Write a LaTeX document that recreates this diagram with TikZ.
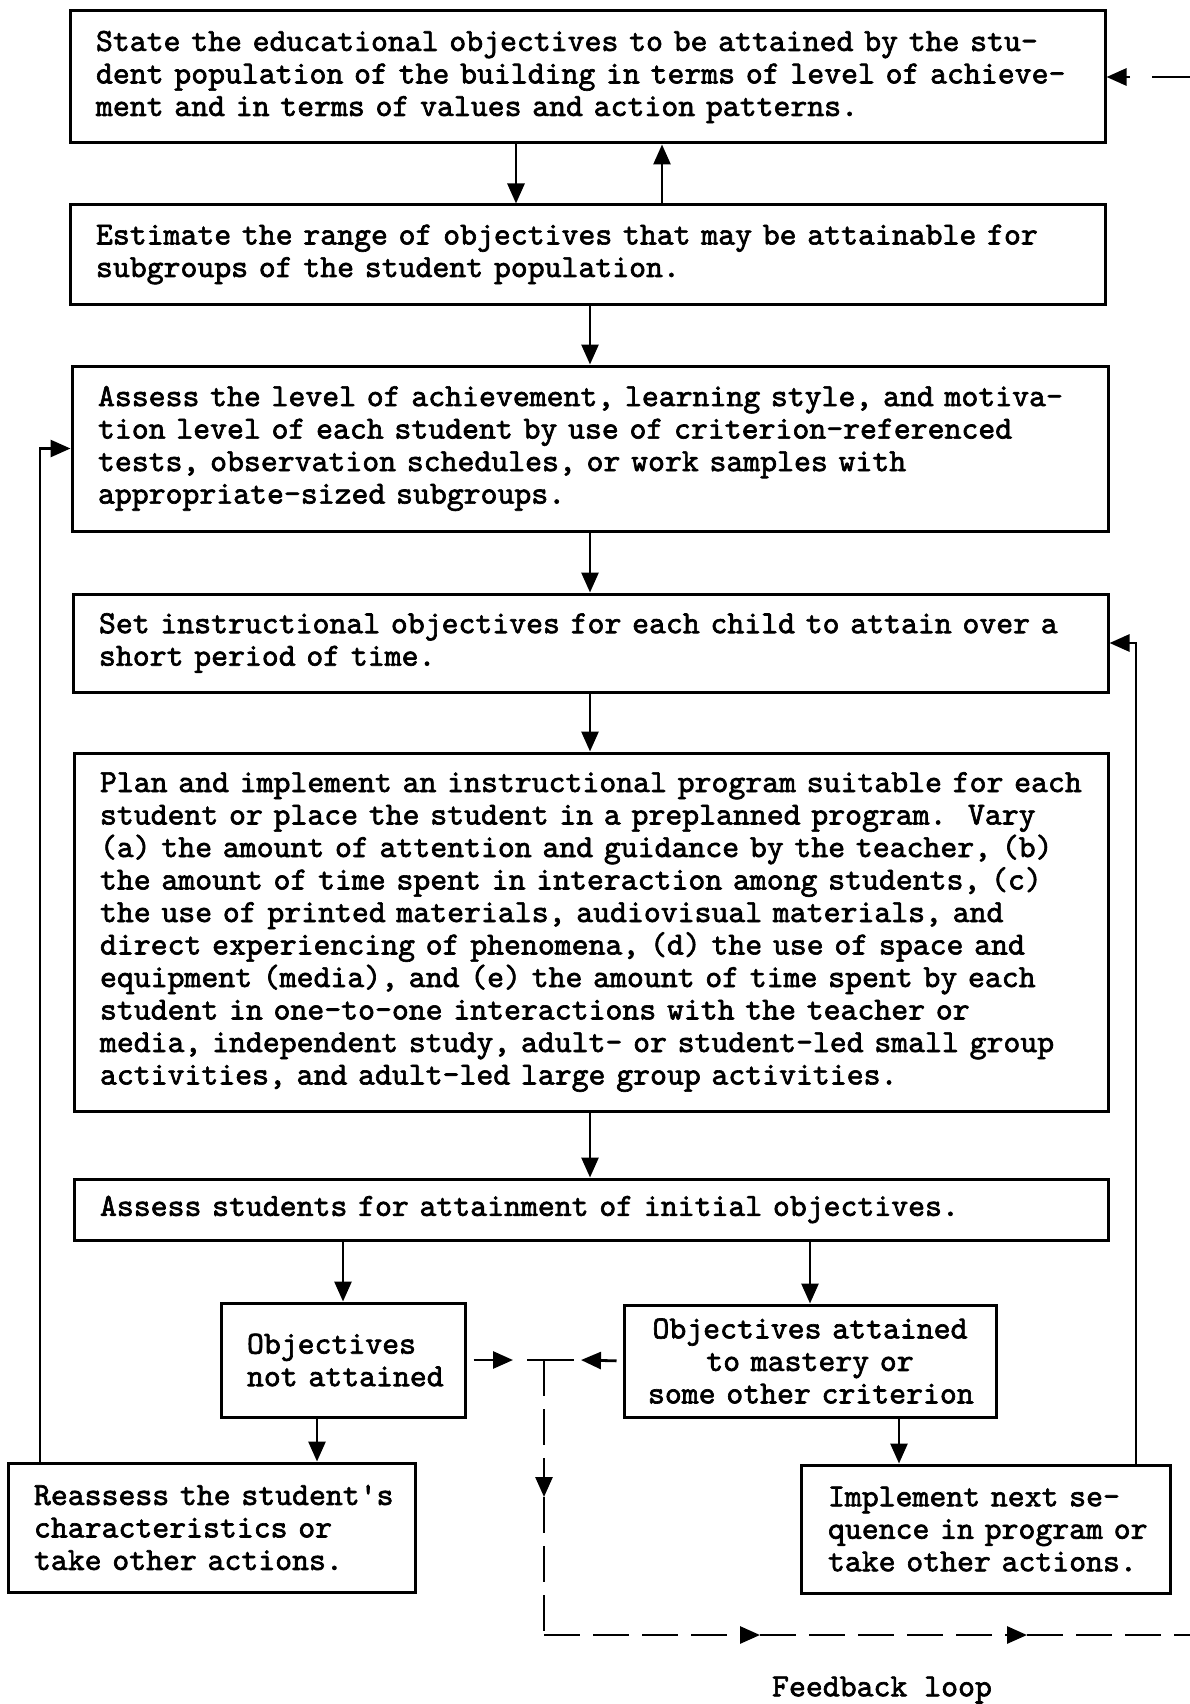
\documentclass[tikz,border=0pt]{standalone}
\usepackage{fontspec}
\setmonofont{lmmono10-regular.otf}[FakeBold=2]
\usetikzlibrary{arrows.meta}
\newcommand\LL[1]{\mbox{#1}}
\tikzset{
  x=1pt, y=-1pt,
  box/.style={draw, line width=3pt, inner ysep=3pt, align=left,
    font=\ttfamily\fontsize{32.2}{32.5}\selectfont},
  arr/.style={line width=2.8pt, -{Triangle[length=20pt,width=17pt]}},
  plain/.style={line width=2.8pt},
  fdash/.style={line width=2.8pt, dash pattern=on 36pt off 13pt},
  lbl/.style={font=\ttfamily\fontsize{32.2}{32.5}\selectfont}
}
\begin{document}
\begin{tikzpicture}
\useasboundingbox[fill=white] (0,0) rectangle (1190,1704);

\node[box, inner xsep=26pt, text width=983pt, minimum height=132pt] (b1) at (587.5,77)
 {\LL{State the educational objectives to be attained by the stu-}\\
  \LL{dent population of the building in terms of level of achieve-}\\
  \LL{ment and in terms of values and action patterns.}};
\node[box, inner xsep=26pt, text width=983pt, minimum height=99pt] (b2) at (587.5,254.5)
 {\LL{Estimate the range of objectives that may be attainable for}\\
  \LL{subgroups of the student population.}};
\node[box, inner xsep=26pt, text width=984pt, minimum height=165pt] (b3) at (590,448.5)
 {\LL{Assess the level of achievement, learning style, and motiva-}\\
  \LL{tion level of each student by use of criterion-referenced}\\
  \LL{tests, observation schedules, or work samples with}\\
  \LL{appropriate-sized subgroups.}};
\node[box, inner xsep=26pt, text width=983pt, minimum height=98pt] (b4) at (590.5,643)
 {\LL{Set instructional objectives for each child to attain over a}\\
  \LL{short period of time.}};
\node[box, inner xsep=26pt, text width=982pt, minimum height=358pt] (b5) at (591,932)
 {\LL{Plan and implement an instructional program suitable for each}\\
  \LL{student or place the student in a preplanned program.\ \ Vary}\\
  \LL{(a) the amount of attention and guidance by the teacher, (b)}\\
  \LL{the amount of time spent in interaction among students, (c)}\\
  \LL{the use of printed materials, audiovisual materials, and}\\
  \LL{direct experiencing of phenomena, (d) the use of space and}\\
  \LL{equipment (media), and (e) the amount of time spent by each}\\
  \LL{student in one-to-one interactions with the teacher or}\\
  \LL{media, independent study, adult- or student-led small group}\\
  \LL{activities, and adult-led large group activities.}};
\node[box, inner xsep=26pt, text width=982pt, minimum height=61pt] (b6) at (591,1209.5)
 {\LL{Assess students for attainment of initial objectives.}};
\node[box, inner xsep=26pt, text width=192pt, minimum height=114pt] (na) at (343,1360)
 {\LL{Objectives}\\\LL{not attained}\\[4pt]};
\node[box, align=center, inner xsep=24pt, text width=324pt, minimum height=112pt] (att) at (810,1361)
 {\LL{Objectives attained}\\\LL{to mastery or}\\\LL{some other criterion}};
\node[box, inner xsep=26pt, text width=355pt, minimum height=129pt] (re) at (211.5,1527.5)
 {\LL{Reassess the student's}\\\LL{characteristics or}\\\LL{take other actions.}};
\node[box, inner xsep=27pt, text width=315pt, minimum height=128pt] (im) at (985.5,1529)
 {\LL{Implement next se-}\\\LL{quence in program or}\\\LL{take other actions.}};
\node[lbl] (fb) at (882,1690) {Feedback loop};

\coordinate (xa) at (516,0);
\coordinate (xb) at (662,0);
\coordinate (xc) at (590,0);
\coordinate (xl) at (40,0);
\coordinate (xr) at (1136,0);
\coordinate (xnr) at (317,0);
\coordinate (xti) at (899,0);
\coordinate (tr) at (1190,77);
\coordinate (ja) at (513,1360);
\coordinate (jb) at (581,1360);
\coordinate (jl) at (527,1360);
\coordinate (jr) at (574,1360);
\coordinate (j) at (544,1360);
\coordinate (jd) at (544,1497);
\coordinate (jc) at (544,1635);
\coordinate (k1) at (760,1635);
\coordinate (k2) at (1027,1635);
\coordinate (br) at (1190,1635);

\draw[arr] (b1.south -| xa) -- (b2.north -| xa);
\draw[arr] (b2.north -| xb) -- (b1.south -| xb);
\draw[arr] (b2.south -| xc) -- (b3.north -| xc);
\draw[arr] (b3.south -| xc) -- (b4.north -| xc);
\draw[arr] (b4.south -| xc) -- (b5.north -| xc);
\draw[arr] (b5.south -| xc) -- (b6.north -| xc);
\draw[arr] (b6.south -| na.north) -- (na.north);
\draw[arr] (b6.south -| att.north) -- (att.north);
\draw[arr] (na.south -| xnr) -- (re.north -| xnr);
\draw[arr] (att.south -| xti) -- (im.north -| xti);
\draw[arr] (re.north -| xl) |- (b3.west);
\draw[arr] (im.north -| xr) |- (b4.east);

\draw[arr, dash pattern=on 38pt off 22pt] (tr) -- (b1.east);
\draw[arr, shorten <=7pt] (na.east) -- (ja);
\draw[arr, shorten <=6pt] (att.west) -- (jb);
\draw[plain] (jl) -- (jr);
\draw[fdash, arr] (j) -- (jd);
\draw[fdash] (jd) -- (jc);
\draw[fdash, arr] (jc) -- (k1);
\draw[fdash, arr] (k1) -- (k2);
\draw[fdash] (k2) -- (br);
\end{tikzpicture}
\end{document}
